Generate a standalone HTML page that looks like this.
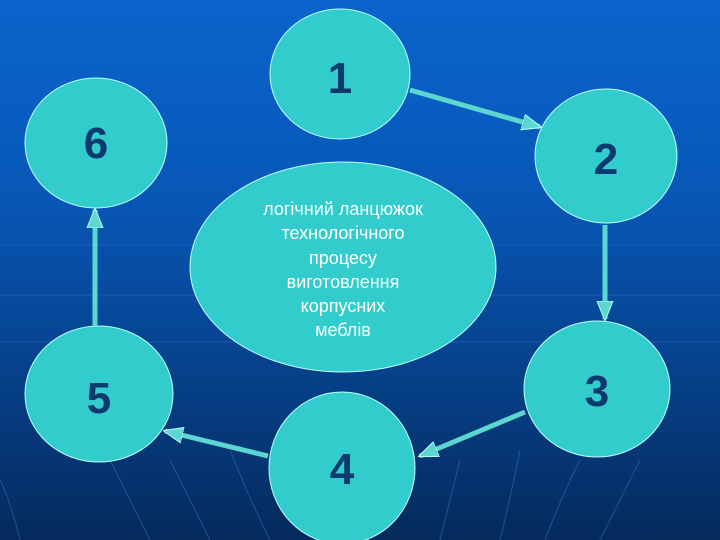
<!DOCTYPE html>
<html><head><meta charset="utf-8"><style>
html,body{margin:0;padding:0;width:720px;height:540px;overflow:hidden}
</style></head><body>
<svg width="720" height="540" xmlns="http://www.w3.org/2000/svg">
<defs>
<linearGradient id="bg" x1="0" y1="0" x2="0" y2="1">
<stop offset="0" stop-color="#0a64cc"/>
<stop offset="0.35" stop-color="#0858b8"/>
<stop offset="0.65" stop-color="#064490"/>
<stop offset="1" stop-color="#052a5c"/>
</linearGradient>
<marker id="ah" viewBox="0 0 10 10" refX="9" refY="5" markerWidth="4" markerHeight="4" orient="auto" markerUnits="strokeWidth">
<path d="M0,1 L10,5 L0,9 Z" fill="#5cd6d0" stroke="#bff" stroke-width="0.5"/>
</marker>
</defs>
<rect width="720" height="540" fill="url(#bg)"/>
<g stroke="#2a6cc0" stroke-width="1" fill="none" opacity="0.6">
<line x1="0" y1="245" x2="720" y2="245"/><line x1="0" y1="295" x2="720" y2="295"/><line x1="0" y1="342" x2="720" y2="342"/>
<path d="M110 460 Q130 500 150 540"/><path d="M170 460 Q190 500 210 540"/><path d="M230 450 Q250 500 270 540"/>
<path d="M460 460 Q450 500 440 540"/><path d="M520 450 Q510 500 500 540"/><path d="M580 460 Q560 500 545 540"/><path d="M640 460 Q620 500 600 540"/>
<path d="M0 480 Q10 500 20 540"/>
</g>
<g fill="#33cccc" stroke="#bff" stroke-width="1">
<ellipse cx="340" cy="74" rx="70" ry="65"/>
<ellipse cx="96" cy="143" rx="71" ry="65"/>
<ellipse cx="606" cy="156" rx="71" ry="67"/>
<ellipse cx="343" cy="267" rx="153" ry="105"/>
<ellipse cx="99" cy="394" rx="74" ry="68"/>
<ellipse cx="597" cy="389" rx="73" ry="68"/>
<ellipse cx="342" cy="468" rx="73" ry="76"/>
</g>
<g stroke="#5cd6d0" stroke-width="5" marker-end="url(#ah)">
<line x1="410" y1="90" x2="540" y2="127"/>
<line x1="605" y1="225" x2="605" y2="319"/>
<line x1="525" y1="412" x2="420" y2="456"/>
<line x1="268" y1="456" x2="165" y2="431"/>
<line x1="95" y1="326" x2="95" y2="210"/>
</g>
<g font-family="'Liberation Sans',sans-serif" font-weight="bold" font-size="44" fill="#0b3a6e" text-anchor="middle">
<text x="340" y="93">1</text>
<text x="96" y="158">6</text>
<text x="606" y="174">2</text>
<text x="99" y="413">5</text>
<text x="597" y="406">3</text>
<text x="342" y="484">4</text>
</g>
<g font-family="'Liberation Sans','DejaVu Sans',sans-serif" font-size="18" fill="#ffffff" text-anchor="middle">
<text x="343" y="215">логічний ланцюжок</text>
<text x="343" y="239">технологічного</text>
<text x="343" y="264">процесу</text>
<text x="343" y="288">виготовлення</text>
<text x="343" y="312">корпусних</text>
<text x="343" y="336">меблів</text>
</g>
</svg>
</body></html>
